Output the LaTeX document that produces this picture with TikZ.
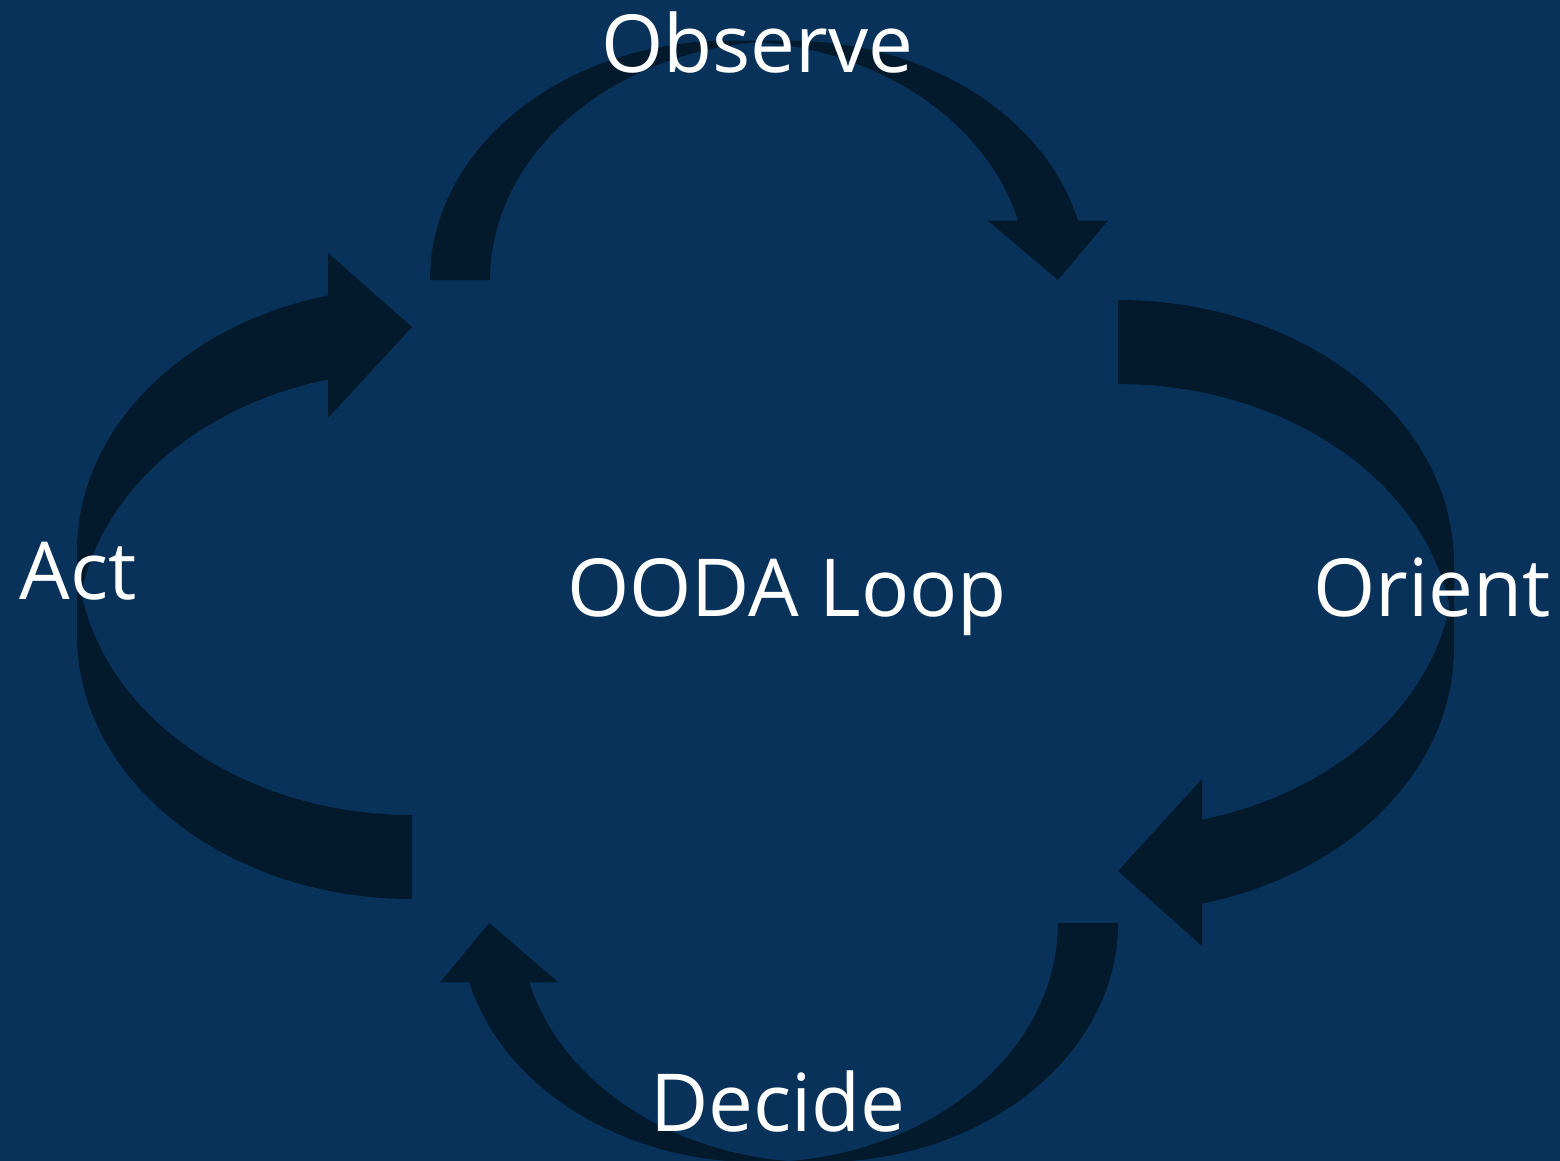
\documentclass[tikz,border=0pt]{standalone}
\usepackage{fontspec}
\setmainfont{Open Sans}
\definecolor{bgblue}{HTML}{08325A}
\definecolor{arrdark}{HTML}{031A2D}
\begin{document}
\begin{tikzpicture}[x=1pt,y=1pt,
  arrowshape/.style={fill=arrdark, draw=none},
  txtlabel/.style={text=white, font=\fontsize{80}{96}\selectfont, inner sep=0pt, anchor=base}]
\clip (0,0) rectangle (1560,-1161);
\fill[bgblue] (0,0) rectangle (1560,-1161);

% Observe (curved down arrow)
\fill[arrowshape] (430,-280)
  arc[start angle=180, end angle=90, x radius=298.7, y radius=239.3]
  -- (788.7,-40.7)
  arc[start angle=90, end angle=14.35, x radius=298.7, y radius=239.3]
  -- (1108,-220.7) -- (1058,-280) -- (988,-220.7) -- (1018.1,-220.7)
  arc[start angle=14.35, end angle=84.235, x radius=298.7, y radius=239.3]
  arc[start angle=95.765, end angle=180, x radius=298.7, y radius=239.3]
  -- cycle;

% Orient (curved left arrow)
\fill[arrowshape] (1118,-300)
  arc[start angle=90, end angle=0, x radius=336, y radius=264]
  -- (1454,-648)
  arc[start angle=0, end angle=-75.52, x radius=336, y radius=264]
  -- (1202,-946) -- (1118,-871) -- (1202,-779) -- (1202,-819.6)
  arc[start angle=-75.52, end angle=-9.153, x radius=336, y radius=264]
  arc[start angle=9.153, end angle=90, x radius=336, y radius=264]
  -- cycle;

% Decide (curved up arrow)
\fill[arrowshape] (1118,-923)
  arc[start angle=0, end angle=-90, x radius=299, y radius=239.3]
  -- (759,-1162.3)
  arc[start angle=-90, end angle=-165.65, x radius=299, y radius=239.3]
  -- (440,-982.3) -- (489.3,-923) -- (558.3,-982.3) -- (529.3,-982.3)
  arc[start angle=-165.65, end angle=-95.765, x radius=299, y radius=239.3]
  arc[start angle=-84.235, end angle=0, x radius=299, y radius=239.3]
  -- cycle;

% Act (curved right arrow)
\fill[arrowshape] (412,-899)
  arc[start angle=270, end angle=180, x radius=335, y radius=264]
  -- (77,-551)
  arc[start angle=180, end angle=104.52, x radius=335, y radius=264]
  -- (328,-253) -- (412,-327) -- (328,-418) -- (328.1,-379.4)
  arc[start angle=104.52, end angle=170.847, x radius=335, y radius=264]
  arc[start angle=189.153, end angle=270, x radius=335, y radius=264]
  -- cycle;

\node[txtlabel] (observe) at (757,-73) {Observe};
\node[txtlabel] (act) at (78,-599) {Act};
\node[txtlabel] (ooda) at (787,-616) {OODA Loop};
\node[txtlabel] (orient) at (1432,-616) {Orient};
\node[txtlabel] (decide) at (778,-1131) {Decide};
\end{tikzpicture}
\end{document}
